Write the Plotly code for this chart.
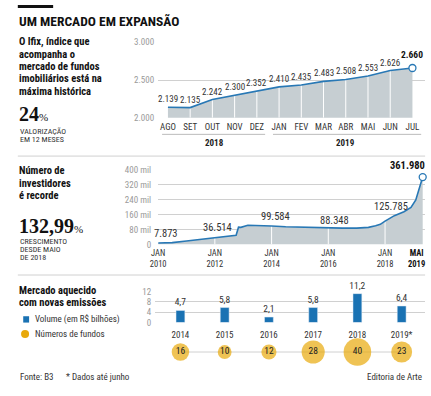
import plotly.graph_objects as go

W, H = 431, 396
def px(x): return x / W
def py(y): return 1 - y / H

NARROW = "Roboto Condensed, DejaVu Sans Condensed, sans-serif"
SERIF = "Liberation Serif, DejaVu Serif, serif"

BLUE = "#2878b5"
BAR_BLUE = "#1a72b3"
FILL = "#c6ced2"
GOLD = "#e8a90c"
DARK = "#222222"
GREY_TXT = "#9a9a9a"
GRID = "#d0d0d0"

# ---------------- data ----------------
# Chart 1: Ifix index
ifix_months = ["AGO", "SET", "OUT", "NOV", "DEZ", "JAN", "FEV", "MAR", "ABR", "MAI", "JUN", "JUL"]
ifix_values = [2139, 2135, 2242, 2300, 2352, 2410, 2435, 2483, 2508, 2553, 2626, 2660]
ifix_yticks = [2000, 2500, 3000]
ifix_ytick_text = ["2.000", "2.500", "3.000"]

# Chart 2: number of investors
inv_dates = ["2010-01-01", "2010-07-01", "2011-01-01", "2011-07-01", "2012-01-01",
             "2012-07-01", "2012-10-01", "2012-11-01", "2012-12-01", "2013-03-01",
             "2013-08-01", "2014-01-01", "2014-07-01", "2015-01-01", "2015-07-01",
             "2016-01-01", "2016-07-01", "2017-01-01", "2017-06-01", "2017-09-01",
             "2017-11-01", "2018-01-01", "2018-05-01", "2018-09-01", "2018-12-01",
             "2019-02-01", "2019-03-01", "2019-04-01", "2019-05-01"]
inv_values = [7873, 10000, 19000, 27000, 36514,
              42000, 50000, 93000, 92000, 103000,
              103000, 99584, 95000, 93000, 90000,
              88348, 88000, 88000, 92000, 101000,
              108000, 125785, 155000, 176000, 199000,
              239000, 274000, 312000, 361980]
inv_label_dates = ["2010-01-01", "2012-01-01", "2014-01-01", "2016-01-01", "2018-01-01", "2019-05-01"]
inv_tick_dates = ["2010-01-01", "2012-01-01", "2014-01-01", "2016-01-01", "2018-01-01"]
inv_tick_text = ["JAN<br>2010", "JAN<br>2012", "JAN<br>2014", "JAN<br>2016", "JAN<br>2018"]
inv_last_tick = ("2019-05-01", "MAI<br>2019")
inv_grid_dates = ["2012-01-01", "2014-01-01", "2016-01-01", "2018-01-01"]
inv_yticks = [0, 80000, 160000, 240000, 320000, 400000]
inv_ytick_text = ["0", "80 mil", "160 mil", "240 mil", "320 mil", "400 mil"]

# Chart 3: emissions
em_years = ["2014", "2015", "2016", "2017", "2018", "2019*"]
em_volume = [4.7, 5.8, 2.1, 5.8, 11.2, 6.4]
em_funds = [16, 10, 12, 28, 40, 23]
em_yticks = [0, 4, 8, 12]

def br(v):
    return f"{v:,}".replace(",", ".")

def brdec(v):
    return f"{v:.1f}".replace(".", ",")

fig = go.Figure()

# ---------------- chart 1 ----------------
idx = list(range(len(ifix_values)))
fig.add_trace(go.Scatter(x=idx, y=ifix_values, mode="lines", line=dict(width=0),
                         fill="tozeroy", fillcolor=FILL, xaxis="x", yaxis="y",
                         hoverinfo="skip", showlegend=False))
vx, vy = [], []
for i in idx[1:-1]:
    vx += [i, i, None]
    vy += [ifix_yticks[0], ifix_values[i], None]
fig.add_trace(go.Scatter(x=vx, y=vy, mode="lines", line=dict(color="white", width=1),
                         xaxis="x", yaxis="y", hoverinfo="skip", showlegend=False))
fig.add_trace(go.Scatter(x=idx, y=ifix_values, mode="lines", line=dict(color=BLUE, width=1.6),
                         xaxis="x", yaxis="y", showlegend=False))
fig.add_trace(go.Scatter(x=[idx[-1]], y=[ifix_values[-1]], mode="markers",
                         marker=dict(size=7, color="white", line=dict(color=BLUE, width=1.3)),
                         xaxis="x", yaxis="y", cliponaxis=False, showlegend=False))

annotations = []
for i, v in zip(idx, ifix_values):
    last = i == idx[-1]
    annotations.append(dict(x=i, y=v, xref="x", yref="y", showarrow=False,
                            text=f"<b>{br(v)}</b>" if last else br(v),
                            yshift=13 if last else 8, yanchor="middle",
                            font=dict(family=NARROW, size=9.5 if last else 9,
                                      color="#111" if last else "#333")))

# ---------------- chart 2 ----------------
fig.add_trace(go.Scatter(x=inv_dates, y=inv_values, mode="lines", line=dict(width=0),
                         fill="tozeroy", fillcolor=FILL, xaxis="x2", yaxis="y2",
                         hoverinfo="skip", showlegend=False))
gx, gy = [], []
for d in inv_grid_dates:
    gx += [d, d, None]
    gy += [0, inv_values[inv_dates.index(d)], None]
fig.add_trace(go.Scatter(x=gx, y=gy, mode="lines", line=dict(color="white", width=1),
                         xaxis="x2", yaxis="y2", hoverinfo="skip", showlegend=False))
fig.add_trace(go.Scatter(x=inv_dates, y=inv_values, mode="lines", line=dict(color=BLUE, width=1.6),
                         xaxis="x2", yaxis="y2", showlegend=False))
fig.add_trace(go.Scatter(x=[inv_dates[-1]], y=[inv_values[-1]], mode="markers",
                         marker=dict(size=7, color="white", line=dict(color=BLUE, width=1.3)),
                         xaxis="x2", yaxis="y2", cliponaxis=False, showlegend=False))
inv_label_shift = [(8, 10), (3, 10), (4, 9), (6, 8), (6, 15), (-15, 12)]
for d, (sx, sy) in zip(inv_label_dates, inv_label_shift):
    v = inv_values[inv_dates.index(d)]
    last = d == inv_label_dates[-1]
    annotations.append(dict(x=d, y=v, xref="x2", yref="y2", showarrow=False,
                            text=f"<b>{br(v)}</b>" if last else br(v),
                            xshift=sx, yshift=sy, yanchor="middle",
                            font=dict(family=NARROW, size=10.5, color="#111" if last else "#333")))
annotations.append(dict(x=inv_last_tick[0], y=0, xref="x2", yref="y2", showarrow=False,
                        text=f"<b>{inv_last_tick[1]}</b>", xshift=-6, yanchor="top", yshift=-2,
                        font=dict(family=NARROW, size=8.5, color="#111")))

# ---------------- chart 3 ----------------
fig.add_trace(go.Bar(x=em_years, y=em_volume, marker=dict(color=BAR_BLUE), width=0.2,
                     text=[brdec(v) for v in em_volume], textposition="outside",
                     constraintext="none",
                     textfont=dict(family=NARROW, size=9.5, color="#333"), cliponaxis=False,
                     xaxis="x3", yaxis="y3", showlegend=False))
fig.add_trace(go.Scatter(x=em_years, y=[0] * len(em_years), mode="lines",
                         line=dict(color=GRID, width=1), xaxis="x3", yaxis="y4",
                         hoverinfo="skip", showlegend=False))
fig.add_trace(go.Scatter(x=em_years, y=[0] * len(em_years), mode="markers+text",
                         marker=dict(size=em_funds, sizemode="area", sizeref=0.105, color=GOLD,
                                     line=dict(width=0)),
                         text=[str(n) for n in em_funds], textposition="middle center",
                         textfont=dict(family=NARROW, size=9.5, color="#222"),
                         xaxis="x3", yaxis="y4", cliponaxis=False, showlegend=False))

# ---------------- text ----------------
def txt(x, y, s, size=8, color=DARK, family=NARROW, anchor="left"):
    annotations.append(dict(x=px(x), y=py(y), xref="paper", yref="paper", text=s,
                            showarrow=False, xanchor=anchor, yanchor="middle",
                            font=dict(family=family, size=size, color=color)))

txt(9, 16.5, "<b>UM MERCADO EM EXPANSÃO</b>", size=13.5, color="#111")
for y, s in zip([37.5, 50.3, 63, 75.7, 88.3],
                ["O Ifix, índice que", "acompanha o", "mercado de fundos",
                 "imobiliários está na", "máxima histórica"]):
    txt(9, y, f"<b>{s}</b>", size=10.5, color="#111")
txt(9, 112, "<b>24</b><span style='font-size:11px'>%</span>", size=20, family=SERIF, color="#111")
txt(10, 129.3, "VALORIZAÇÃO", size=8, color="#333")
txt(10, 138.3, "EM 12 MESES", size=8, color="#333")

for y, s in zip([170, 182.7, 195], ["Número de", "investidores", "é recorde"]):
    txt(9, y, f"<b>{s}</b>", size=10.5, color="#111")
txt(9, 226.5, "<b>132,99</b><span style='font-size:11px'>%</span>", size=20, family=SERIF, color="#111")
for y, s in zip([242.5, 251, 259.5], ["CRESCIMENTO", "DESDE MAIO", "DE 2018"]):
    txt(10, y, s, size=8, color="#333")

txt(9, 293.3, "<b>Mercado aquecido</b>", size=10.5, color="#111")
txt(9, 305.3, "<b>com novas emissões</b>", size=10.5, color="#111")
txt(25, 323, "Volume (em R$ bilhões)", size=9, color="#333")
txt(25, 337.5, "Números de fundos", size=9, color="#333")

txt(10, 382, "Fonte: B3", size=9, color="#333")
txt(57, 382, "* Dados até junho", size=9, color="#333")
txt(424, 382, "Editoria de Arte", size=9, color="#333", anchor="right")

txt(210, 142, "<b>2018</b>", size=9, color="#222", anchor="center")
txt(344, 142, "<b>2019</b>", size=9, color="#222", anchor="center")

shapes = [
    dict(type="rect", xref="paper", yref="paper", x0=px(10), x1=px(46), y0=py(3), y1=py(0),
         fillcolor="#111", line=dict(width=0)),
    dict(type="line", xref="paper", yref="paper", x0=px(10), x1=px(425), y0=py(155), y1=py(155),
         line=dict(color=GRID, width=1)),
    dict(type="line", xref="paper", yref="paper", x0=px(10), x1=px(425), y0=py(277), y1=py(277),
         line=dict(color=GRID, width=1)),
    dict(type="line", xref="paper", yref="paper", x0=px(157), x1=px(262), y0=py(132.7), y1=py(132.7),
         line=dict(color="#bbbbbb", width=1)),
    dict(type="line", xref="paper", yref="paper", x0=px(270), x1=px(421), y0=py(132.7), y1=py(132.7),
         line=dict(color="#bbbbbb", width=1)),
    dict(type="rect", xref="paper", yref="paper", x0=px(15.5), x1=px(21.5), y0=py(325.8), y1=py(319.3),
         fillcolor=BAR_BLUE, line=dict(width=0)),
    dict(type="circle", xref="paper", yref="paper", x0=px(13.3), x1=px(21.5), y0=py(341.6), y1=py(333.4),
         fillcolor=GOLD, line=dict(width=0)),
]

tickfont_grey = dict(family=NARROW, size=9, color=GREY_TXT)
tickfont_dark = dict(family=NARROW, size=9, color="#333")

fig.update_layout(
    width=W, height=H, autosize=False,
    margin=dict(l=0, r=0, t=0, b=0),
    paper_bgcolor="white", plot_bgcolor="white",
    showlegend=False,
    annotations=annotations, shapes=shapes,
    xaxis=dict(domain=[px(153), px(425)], range=[-0.44, 11.57],
               tickvals=idx, ticktext=ifix_months, showgrid=False, zeroline=False,
               showline=False, ticks="", tickfont=tickfont_dark, ticklabelstandoff=2),
    yaxis=dict(domain=[py(115.7), py(38.3)], range=[2000, 3000],
               tickvals=ifix_yticks, ticktext=ifix_ytick_text, showgrid=True,
               gridcolor=GRID, gridwidth=1, zeroline=False, showline=False, ticks="",
               tickfont=tickfont_grey, ticklabelstandoff=3, anchor="x"),
    xaxis2=dict(domain=[px(153), px(425)], range=["2010-01-01", "2019-06-01"], type="date",
                tickvals=inv_tick_dates, ticktext=inv_tick_text, showgrid=False,
                zeroline=False, showline=False, ticks="",
                tickfont=dict(family=NARROW, size=8.5, color="#333"),
                ticklabelstandoff=2, anchor="y2"),
    yaxis2=dict(domain=[py(245.7), py(169.3)], range=[0, 400000],
                tickvals=inv_yticks, ticktext=inv_ytick_text, showgrid=True,
                gridcolor=GRID, gridwidth=1, zeroline=False, showline=False, ticks="",
                tickfont=tickfont_grey, ticklabelstandoff=6, anchor="x2"),
    xaxis3=dict(domain=[px(150), px(425)], range=[-0.57, 5.53], type="category",
                showgrid=False, zeroline=False, showline=False, ticks="",
                tickfont=dict(family=NARROW, size=9, color="#333"),
                ticklabelstandoff=6, anchor="y3"),
    yaxis3=dict(domain=[py(325.7), py(294)], range=[0, 12], tickvals=em_yticks,
                showgrid=True, gridcolor=GRID, gridwidth=1, zeroline=False, showline=False,
                ticks="", tickfont=tickfont_grey, ticklabelstandoff=3, anchor="x3"),
    yaxis4=dict(domain=[py(370), py(342)], range=[-1, 1], visible=False, anchor="x3"),
)

fig.write_html("out.html", config={"displayModeBar": False, "staticPlot": True},
               post_script="document.body.style.margin='0';document.body.style.padding='0';")
